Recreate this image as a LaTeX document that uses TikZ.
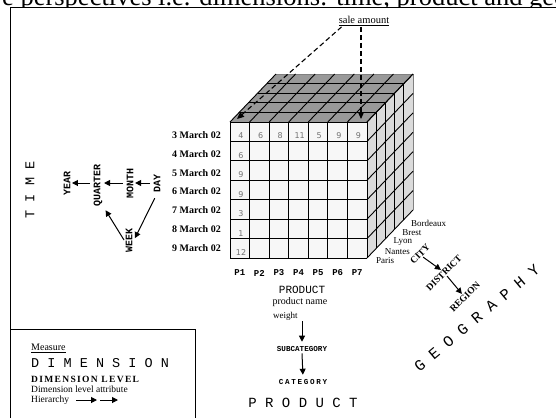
\documentclass[tikz,border=0pt]{standalone}
\usepackage{fontspec}
\setmainfont{Liberation Serif}
\setmonofont{Liberation Mono}
\newfontfamily\cellfont{DejaVu Sans}
\newfontfamily\catfont[LetterSpace=22]{Liberation Mono}
\newfontfamily\widefont[LetterSpace=14]{Liberation Serif}
\usetikzlibrary{arrows.meta,calc}

\definecolor{topgray}{gray}{0.6}
\definecolor{sidegray}{gray}{0.86}
\definecolor{frontgray}{gray}{0.97}

\tikzset{
  hierarrow/.style={line width=1pt,-{Triangle[length=6pt,width=6pt]}},
  salearrow/.style={line width=1.1pt,dash pattern=on 5pt off 3pt,-{Triangle[length=7pt,width=6pt]}},
  dimname/.style={font=\ttfamily\fontsize{13.5}{14}\selectfont,inner sep=1pt},
  level/.style={font=\ttfamily\bfseries\fontsize{10}{11}\selectfont,inner sep=1.5pt},
  smalllevel/.style={font=\ttfamily\bfseries\fontsize{7.6}{9}\selectfont,inner sep=1.5pt},
  geolevel/.style={font=\rmfamily\bfseries\fontsize{9.5}{10}\selectfont,inner sep=1pt,rotate=45},
  member/.style={font=\rmfamily\fontsize{9}{10}\selectfont,inner sep=1pt},
  datelabel/.style={font=\rmfamily\bfseries\fontsize{10}{11}\selectfont,inner sep=1pt,anchor=east},
  cellnum/.style={font=\cellfont\fontsize{8}{9}\selectfont,text=black!55,inner sep=0pt},
}

\begin{document}
\begin{tikzpicture}[x=1pt,y=-1pt]
\useasboundingbox (0,0) rectangle (556,418);
% line of text above the frame, cut by the page edge and the frame
\begin{scope}
\clip (0,0) rectangle (556,7);
\node[anchor=base west,inner sep=0pt,font=\fontsize{26.5}{28}\selectfont] (caption) at (2,5) {e perspectives i.e. dimensions: time, product and geography};
\end{scope}
% frame and legend box
\draw[line width=0.9pt] (10,418) -- (10,7) -- (556,7);
\draw[line width=0.9pt] (10,329) -- (195,329) -- (195,418);

% cube
\fill[frontgray] (230,122) rectangle (367,258);
\fill[topgray] (230,122) -- (276,74) -- (413,74) -- (367,122) -- cycle;
\fill[sidegray] (367,122) -- (413,74) -- (413,210) -- (367,258) -- cycle;
\draw[black!50] (276,74) -- (413,74) -- (413,210);
\begin{scope}[line width=0.9pt]
\foreach \i in {0,...,7} {
  \draw ({230+19.57*\i},122) -- ({230+19.57*\i},258);
  \draw (230,{122+19.43*\i}) -- (367,{122+19.43*\i});
  \draw ({230+19.57*\i},122) -- ++(46,-48);
  \draw (367,{122+19.43*\i}) -- ++(46,-48);
}
\foreach \k in {1,...,4}
  \draw ({230+9.2*\k},{122-9.6*\k}) -- ++(137,0) -- ++(0,136);
\end{scope}

% cell values
\foreach \n [count=\c from 0] in {4,6,8,11,5,9,9}
  \node[cellnum] (top\c) at ({241+19.57*\c},136) {\n};
\foreach \n [count=\r from 1] in {6,9,9,3,1,12}
  \node[cellnum] (left\r) at (241,{136+19.43*\r}) {\n};

% time members and product members
\foreach \d [count=\r from 0] in {3,...,9}
  \node[datelabel] (date\d) at (222,{135+18.8*\r}) {\d\ March 02};
\foreach \p in {1,...,7}
  \node[level,font=\ttfamily\bfseries\fontsize{9}{10}\selectfont] (p\p) at ({239.8+19.57*(\p-1)},273) {P\p};

% geography members
\foreach \c [count=\k from 0] in {Paris,Nantes,Lyon,Brest,Bordeaux}
  \node[member,anchor=west] (city\k) at ({375+8.75*\k},{261-9.5*\k}) {\c};

% measure
\node[member,font=\rmfamily\fontsize{10.5}{11}\selectfont] (sale) at (364,21) {\underline{sale amount}};
\coordinate (cellA) at (237,119);
\coordinate (cellB) at (361,119);
\draw[salearrow] ($(sale.south west)+(4,0)$) -- (cellA);
\draw[salearrow] (sale.south -| cellB) -- (cellB);

% time dimension
\node[dimname,rotate=90] (time) at (30,190) {T I M E};
\node[level,rotate=90] (year) at (67,183) {YEAR};
\node[level,rotate=90] (quarter) at (98,185) {QUARTER};
\node[level,rotate=90] (month) at (130,183) {MONTH};
\node[level,rotate=90] (day) at (157,183) {DAY};
\node[level,rotate=90] (week) at (129,240) {WEEK};
\draw[hierarrow,shorten <=2pt] (day.north) -- (month.south);
\draw[hierarrow,shorten <=2pt] (month.north) -- (month.north -| quarter.south);
\draw[hierarrow,shorten <=2pt] (quarter.north |- year.south) -- (year.south);
\draw[hierarrow,shorten <=5pt,shorten >=2pt] (day.west) -- (week.south);
\draw[hierarrow,shorten >=3pt] (week.north) -- (quarter.south west);

% product dimension
\node[level,font=\ttfamily\fontsize{11}{12}\selectfont] (product) at (302,290) {PRODUCT};
\node[member,font=\rmfamily\fontsize{10}{11}\selectfont] (prodname) at (300,302) {product name};
\node[member,anchor=west] (weight) at (272,316) {weight};
\node[smalllevel] (subcat) at (302,349) {SUBCATEGORY};
\node[smalllevel,font=\catfont\bfseries\fontsize{7.6}{9}\selectfont] (category) at (303,382) {CATEGORY};
\node[dimname,font=\ttfamily\fontsize{14}{15}\selectfont] (productdim) at (303,403) {P R O D U C T};
\draw[hierarrow,shorten >=3pt] (weight.south -| subcat.north) -- (subcat.north);
\draw[hierarrow,shorten >=3pt] (subcat.south) -- (category.north);

% geography dimension
\node[geolevel] (cityname) at (420,254) {CITY};
\node[geolevel] (district) at (444,273) {DISTRICT};
\node[geolevel] (region) at (465,297) {REGION};
\draw[hierarrow] (cityname.south) -- (district.north);
\draw[hierarrow] (district.south) -- (region.north);
\node[dimname,rotate=40,font=\ttfamily\fontsize{15.5}{16}\selectfont] (geography) at (477,318) {G E O G R A P H Y};

% legend
\node[member,anchor=west,font=\rmfamily\fontsize{10}{11}\selectfont] (measure) at (30,348) {\underline{Measure}};
\node[dimname,anchor=west] (dimension) at (30,363) {D I M E N S I O N};
\node[member,anchor=west,font=\widefont\bfseries\fontsize{9.5}{10}\selectfont] (dimlevel) at (30,379) {DIMENSION LEVEL};
\node[member,anchor=west,font=\rmfamily\fontsize{9.5}{10}\selectfont] (dimattr) at (30,389) {Dimension level attribute};
\node[member,anchor=west,font=\rmfamily\fontsize{9.5}{10}\selectfont] (hierarchy) at (30,400) {Hierarchy};
\coordinate (hierA) at (97,400);
\coordinate (hierB) at (100,400);
\coordinate (hierC) at (118,400);
\draw[hierarrow,shorten <=6pt] (hierarchy.east) -- (hierA);
\draw[hierarrow] (hierB) -- (hierC);
\end{tikzpicture}
\end{document}
